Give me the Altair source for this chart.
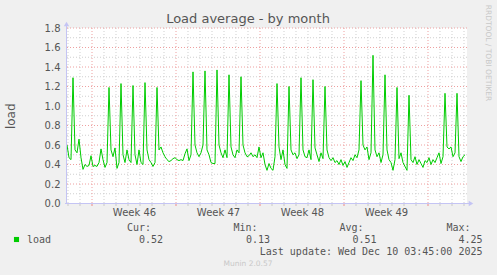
import altair as alt
import pandas as pd

# ---- data (2-hour Munin month resolution, sampled every 4 h) ----
load = [
    0.60, 0.47, 0.45, 1.29, 0.55, 0.52, 0.66, 0.47, 0.35, 0.40, 0.38, 0.39, 0.49,
    0.38, 0.39, 0.38, 0.42, 0.56, 0.45, 0.37, 0.42,
    1.19, 0.55, 0.48, 0.57, 0.36, 0.42,
    1.23, 0.50, 0.42, 0.55, 0.45, 0.42,
    1.21, 0.50, 0.40, 0.55, 0.42, 0.40,
    1.24, 0.55, 0.45, 0.42, 0.38, 0.42,
    1.19, 0.55, 0.58, 0.52, 0.48, 0.45,
    0.43, 0.44, 0.46, 0.47, 0.45, 0.44, 0.45, 0.44, 0.51, 0.56, 0.44, 0.50,
    1.35, 0.60, 0.52, 0.48, 0.52, 0.60,
    1.36, 0.55, 0.50, 0.42, 0.41, 0.41,
    1.37, 0.60, 0.52, 0.47, 0.55, 0.47,
    1.32, 0.58, 0.50, 0.47, 0.55, 0.52,
    1.30, 0.60, 0.52, 0.48, 0.49, 0.52,
    0.48, 0.50, 0.47, 0.58, 0.47, 0.52, 0.40, 0.34, 0.41, 0.36, 0.34, 0.48,
    1.23, 0.58, 0.45, 0.55, 0.40, 0.36,
    1.20, 0.55, 0.50, 0.52, 0.46, 0.50,
    1.29, 0.55, 0.48, 0.47, 0.55, 0.45,
    1.27, 0.57, 0.50, 0.43, 0.52, 0.46,
    1.20, 0.55, 0.47, 0.44, 0.47, 0.42,
    0.44, 0.40, 0.45, 0.39, 0.43, 0.37, 0.42, 0.47, 0.44, 0.50, 0.47, 0.55,
    1.26, 0.60, 0.55, 0.58, 0.45, 0.52,
    1.52, 0.55, 0.48, 0.52, 0.42, 0.50,
    1.32, 0.55, 0.45, 0.42, 0.34, 0.45,
    1.19, 0.46, 0.52, 0.42, 0.38, 0.34,
    1.11, 0.45, 0.42, 0.48, 0.40, 0.45, 0.41, 0.37, 0.44, 0.42, 0.47, 0.40,
    0.45, 0.42, 0.47, 0.52, 0.41, 0.48,
    1.13, 0.58, 0.56, 0.58, 0.48, 0.52,
    1.13, 0.48, 0.43, 0.48, 0.50,
]
hours = [2 + 4 * i for i in range(len(load))]   # hours since start of graph window
span_hours = 802

week_labels = ["Week 46", "Week 47", "Week 48", "Week 49"]
week_start_hours = [52, 220, 388, 556, 724]
week_mid_hours = [136, 304, 472, 640]
day_hours = [h for h in range(4, span_hours, 24) if h not in week_start_hours]
y_ticks = [0.0, 0.2, 0.4, 0.6, 0.8, 1.0, 1.2, 1.4, 1.6, 1.8]
y_major = [0.2, 0.4, 0.6, 0.8, 1.0, 1.2, 1.4, 1.6, 1.8]
y_minor = [0.1, 0.3, 0.5, 0.7, 0.9, 1.1, 1.3, 1.5, 1.7]

title = "Load average - by month"
y_title = "load"
series_name = "load"
stat_names = ["Cur:", "Min:", "Avg:", "Max:"]
stat_values = ["0.52", "0.13", "0.51", "4.25"]
last_update = "Last update: Wed Dec 10 03:45:00 2025"
footer = "Munin 2.0.57"
side_text = "RRDTOOL / TOBI OETIKER"

# ---- layout ----
OX, OY = 66, 28          # plot origin in page pixels
W, H = 401, 175.5
GREEN = "#00cc00"
TXT = "#555555"
AXIS = "#c4c4f4"

xs = alt.Scale(domain=[0, span_hours], nice=False, zero=False)
ys = alt.Scale(domain=[0, 1.8], nice=False, zero=True)

label_expr = " : ".join(
    f"datum.value == {h} ? '{lab}'" for h, lab in zip(week_mid_hours, week_labels)
) + " : ''"

xaxis = alt.Axis(
    values=week_mid_hours, labelExpr=label_expr, grid=False, ticks=False,
    domain=False, title=None, labelFontSize=10, labelFont="DejaVu Sans",
    labelColor=TXT, labelBaseline="alphabetic", labelPadding=11.5)
yaxis = alt.Axis(
    values=y_ticks, format=".1f", grid=False, ticks=False, domain=False,
    labelFontSize=10, labelFont="DejaVu Sans", labelColor=TXT,
    labelPadding=6, title=y_title, titleFontSize=12, titleFont="DejaVu Sans",
    titleColor=TXT, titleFontWeight="normal", titleAngle=-90,
    titleX=-56, titleY=H / 2, titleAlign="center", titleBaseline="middle")

X = lambda f: alt.X(f, scale=xs, axis=xaxis)
Y = lambda f: alt.Y(f, scale=ys, axis=yaxis)

def vrules(vals, color):
    return alt.Chart(pd.DataFrame({"hour": vals})).mark_rule(
        color=color, strokeWidth=1, strokeDash=[1, 2]
    ).encode(x=X("hour:Q"))

def hrules(vals, color):
    return alt.Chart(pd.DataFrame({"load": vals})).mark_rule(
        color=color, strokeWidth=1, strokeDash=[1, 2]
    ).encode(y=Y("load:Q"))

def xticks(vals, color):
    return alt.Chart(pd.DataFrame({"hour": vals})).mark_rule(
        color=color, strokeWidth=1
    ).encode(x=X("hour:Q"), y=alt.value(H), y2=alt.value(H + 2.5))

def txt(s, x, y, align="left", size=10, color=TXT, font="DejaVu Sans Mono", angle=0):
    return alt.Chart(pd.DataFrame({"t": [s]})).mark_text(
        align=align, baseline="middle", fontSize=size, font=font, color=color, angle=angle
    ).encode(text="t:N", x=alt.value(x - OX), y=alt.value(y - OY))

df = pd.DataFrame({"hour": hours, "load": load})

line = alt.Chart(df).mark_line(color=GREEN, strokeWidth=1).encode(
    x=X("hour:Q"), y=Y("load:Q"))

dummy = pd.DataFrame({"a": [0]})
y_axis_line = alt.Chart(dummy).mark_rule(color=AXIS, strokeWidth=1).encode(
    x=alt.value(0.5), y=alt.value(-4), y2=alt.value(H))
x_axis_line = alt.Chart(dummy).mark_rule(color=AXIS, strokeWidth=1).encode(
    x=alt.value(-1), x2=alt.value(404), y=alt.value(H))
y_arrow = alt.Chart(dummy).mark_point(shape="triangle-up", filled=True, size=28,
                                      color=AXIS, opacity=1).encode(
    x=alt.value(0.5), y=alt.value(-4))
x_arrow = alt.Chart(dummy).mark_point(shape="triangle-right", filled=True, size=28,
                                      color=AXIS, opacity=1).encode(
    x=alt.value(405), y=alt.value(H))

legend_sq = alt.Chart(dummy).mark_square(color=GREEN, size=26, opacity=1).encode(
    x=alt.value(16.5 - OX), y=alt.value(239.5 - OY))

stat_name_x = [151, 257.5, 363.5, 470.5]
stat_val_x = [163, 270, 376.5, 482.5]

layers = [
    hrules(y_minor, "#cfcfcf"),
    vrules(day_hours, "#cfcfcf"),
    hrules(y_major, "#eea0a0"),
    vrules(week_start_hours, "#eea0a0"),
    xticks(day_hours, "#c8c8c8"),
    xticks(week_start_hours, "#ee8888"),
    line,
    y_axis_line, x_axis_line, y_arrow, x_arrow,
    legend_sq,
    txt(title, 248, 18.5, align="center", size=13, font="DejaVu Sans"),
    txt(series_name, 27, 239.5),
]
for n, xv in zip(stat_names, stat_name_x):
    layers.append(txt(n, xv, 227.8, align="right"))
for v, xv in zip(stat_values, stat_val_x):
    layers.append(txt(v, xv, 239.5, align="right"))
layers.append(txt(last_update, 482.5, 251.8, align="right"))
layers.append(txt(footer, 248, 264, align="center", size=7.5, color="#c8c8c8", font="DejaVu Sans"))
layers.append(txt(side_text, 488, 53, align="center", size=7.5, color="#c8c8c8",
                  font="DejaVu Sans", angle=90))

chart = alt.layer(*layers).properties(
    width=W, height=H,
    autosize=alt.AutoSizeParams(type="none"),
    padding={"left": OX, "top": OY, "right": 497 - OX - W, "bottom": 275 - OY - H},
    background="#f0f0f0",
).configure_view(fill="white", stroke=None)

chart.save("out.html", embed_options={"renderer": "svg", "actions": False})
